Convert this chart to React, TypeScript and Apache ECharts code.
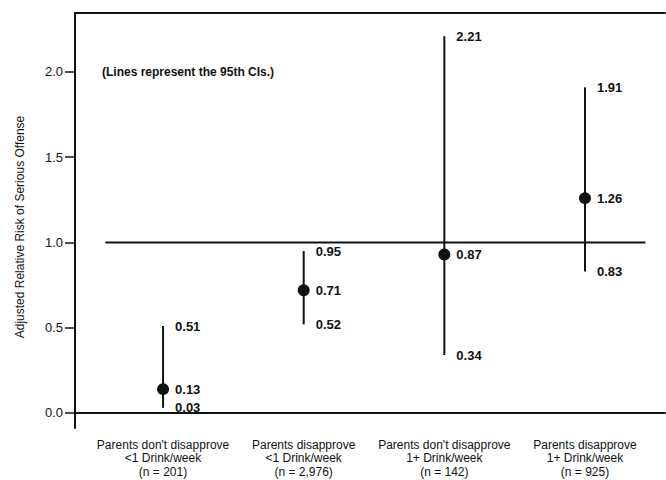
import React, { useEffect, useRef } from "react";
import * as echarts from "echarts";

// Categories (x positions 1..4)
const categories = [
  "Parents don't disapprove\n<1 Drink/week\n(n = 201)",
  "Parents disapprove\n<1 Drink/week\n(n = 2,976)",
  "Parents don't disapprove\n1+ Drink/week\n(n = 142)",
  "Parents disapprove\n1+ Drink/week\n(n = 925)",
];
// Printed point estimates and 95% CI bounds
const estimates = [0.13, 0.71, 0.87, 1.26];
const lowerCI = [0.03, 0.52, 0.34, 0.83];
const upperCI = [0.51, 0.95, 2.21, 1.91];
// Marker heights as drawn in the picture
const markerY = [0.14, 0.72, 0.93, 1.26];
// Y tick labels
const yTicks = [0, 0.5, 1.0, 1.5, 2.0];
// Reference line
const refValue = 1.0;
const refExtent = [0.59, 4.43];
const note = "(Lines represent the 95th CIs.)";
const yTitle = "Adjusted Relative Risk of Serious Offense";

const FONT = "'Liberation Sans', Arial, Helvetica, sans-serif";

export default function App() {
  const ref = useRef<HTMLDivElement>(null);
  useEffect(() => {
    if (!ref.current) return;
    const chart = echarts.init(ref.current, null, { renderer: "svg" });
    const xIdx = categories.map((_, i) => i + 1);
    const labelStyle = {
      show: true,
      position: "right",
      distance: 12,
      fontFamily: FONT,
      fontWeight: "bold",
      fontSize: 13,
      color: "#111",
    };
    chart.setOption({
      animation: false,
      backgroundColor: "#fff",
      grid: { left: 75, right: 1, top: 13, bottom: 52 },
      xAxis: [
        {
          type: "value",
          min: 0.374,
          max: 4.569,
          position: "bottom",
          splitLine: { show: false },
          axisLine: { show: true, lineStyle: { color: "#111", width: 2 } },
          axisTick: { show: false },
          axisLabel: {
            customValues: xIdx,
            formatter: (v: number) => categories[Math.round(v) - 1] ?? "",
            fontFamily: FONT,
            fontSize: 12,
            color: "#111",
            lineHeight: 13.5,
            margin: 10,
            align: "center",
          },
        },
        {
          type: "value",
          min: 0.374,
          max: 4.569,
          position: "top",
          splitLine: { show: false },
          axisLine: { show: true, lineStyle: { color: "#111", width: 2 } },
          axisTick: { show: false },
          axisLabel: { show: false },
        },
      ],
      yAxis: {
        type: "value",
        min: -0.088,
        max: 2.346,
        splitLine: { show: false },
        axisLine: { show: true, lineStyle: { color: "#111", width: 2 } },
        axisTick: {
          show: true,
          customValues: yTicks,
          length: 10,
          lineStyle: { color: "#111", width: 1.5 },
        },
        axisLabel: {
          customValues: yTicks,
          formatter: (v: number) => v.toFixed(1),
          fontFamily: FONT,
          fontSize: 13,
          color: "#111",
          margin: 12,
        },
      },
      graphic: [
        {
          type: "text",
          left: 102,
          top: 66,
          style: {
            text: note,
            font: `bold 12px ${FONT}`,
            fill: "#111",
          },
        },
        {
          type: "text",
          x: 20,
          y: 227,
          rotation: Math.PI / 2,
          style: {
            text: yTitle,
            font: `12px ${FONT}`,
            fill: "#111",
            align: "center",
            verticalAlign: "middle",
          },
        },
      ],
      series: [
        {
          type: "line",
          data: [
            [refExtent[0], refValue],
            [refExtent[1], refValue],
          ],
          symbol: "none",
          lineStyle: { color: "#111", width: 2 },
          silent: true,
        },
        {
          type: "custom",
          data: xIdx.map((x, i) => [x, lowerCI[i], upperCI[i]]),
          renderItem: (params: any, api: any) => {
            const lo = api.coord([api.value(0), api.value(1)]);
            const hi = api.coord([api.value(0), api.value(2)]);
            return {
              type: "line",
              shape: { x1: lo[0], y1: lo[1], x2: hi[0], y2: hi[1] },
              style: { stroke: "#111", lineWidth: 2 },
            };
          },
          silent: true,
        },
        {
          type: "scatter",
          data: xIdx.map((x, i) => [x, markerY[i], estimates[i]]),
          symbol: "circle",
          symbolSize: 12,
          itemStyle: { color: "#111", opacity: 1 },
          label: {
            ...labelStyle,
            distance: 6,
            formatter: (p: any) => p.value[2].toFixed(2),
          },
        },
        {
          type: "scatter",
          data: xIdx.map((x, i) => [x, upperCI[i]]),
          symbolSize: 0,
          itemStyle: { color: "rgba(0,0,0,0)", opacity: 1 },
          label: {
            ...labelStyle,
            formatter: (p: any) => p.value[1].toFixed(2),
          },
        },
        {
          type: "scatter",
          data: xIdx.map((x, i) => [x, lowerCI[i]]),
          symbolSize: 0,
          itemStyle: { color: "rgba(0,0,0,0)", opacity: 1 },
          label: {
            ...labelStyle,
            formatter: (p: any) => p.value[1].toFixed(2),
          },
        },
      ],
    });
    return () => chart.dispose();
  }, []);
  return <div ref={ref} style={{ width: 666, height: 480, position: "absolute", left: 0, top: 0 }} />;
}
